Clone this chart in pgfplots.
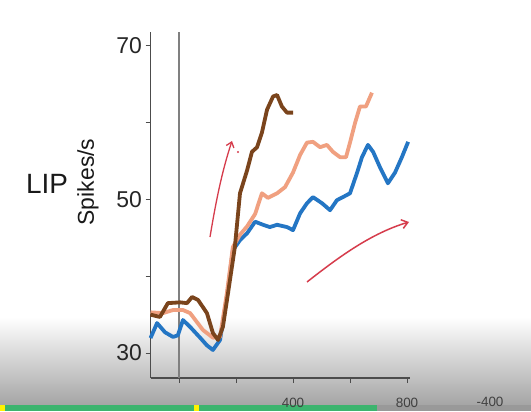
\documentclass[border=0pt]{standalone}
\usepackage{fontspec}
\setmainfont{Liberation Sans}
\usepackage{pgfplots}
\pgfplotsset{compat=1.18}
\usetikzlibrary{arrows.meta}
\definecolor{cbrown}{RGB}{122,68,28}
\definecolor{csalmon}{RGB}{240,160,128}
\definecolor{cblue}{RGB}{36,118,196}
\definecolor{cred}{RGB}{214,60,76}
\definecolor{cgreen}{RGB}{60,180,110}
\begin{document}
\begin{tikzpicture}[x=1bp,y=1bp]
\path[use as bounding box] (0,0) rectangle (531,411);
\fill[white] (0,0) rectangle (531,411);
\shade[top color=white, bottom color={rgb,255:red,165;green,165;blue,165}] (0,6) rectangle (531,94);
\fill[cgreen] (0,0) rectangle (377,6);
\fill[black!40] (377,0) rectangle (531,6);
\fill[yellow] (0,0) rectangle (5,6);
\fill[yellow] (194,0) rectangle (199,6);
\begin{axis}[
  at={(150.5bp,33bp)}, anchor=south west,
  scale only axis, width=259.35bp, height=346bp,
  xmin=-100, xmax=810, ymin=26.75, ymax=71.8,
  axis x line*=bottom, axis y line*=left,
  axis line style={-, black!70, line width=1.6bp},
  tick align=outside, major tick length=5bp,
  tick style={black!70, line width=1bp},
  xtick={0,200,400,600,800}, xticklabels={,,400,,800},
  ytick={30,40,50,60,70}, yticklabels={30,,50,,70},
  /pgf/number format/assume math mode=true,
  yticklabel style={font=\fontsize{23}{23}\selectfont, text=black!85},
  xticklabel style={font=\fontsize{13.5}{13.5}\selectfont, text=black!75, yshift=-12bp},
  clip=false,
]
\draw[black!50, line width=1.2bp] (axis cs:0,26.75) -- (axis cs:0,71.8);
\addplot[cblue, line width=3.8bp, line join=round] coordinates {
(-100,31.95) (-77,33.9) (-49,32.7) (-21,32.1) (-4,32.3) (14,34.3) (39,33.4)
(74,32.0) (98,31.0) (119,30.4) (144,31.7) (168,37.3) (189,43.4) (214,44.7)
(239,45.6) (267,47.1) (295,46.7) (319,46.4) (344,46.7) (379,46.4) (400,46.0)
(425,48.2) (449,49.5) (470,50.3) (502,49.5) (530,48.6) (554,49.9) (575,50.3)
(600,50.8) (625,53.5) (642,55.5) (663,57.1) (681,56.2) (705,54.2) (733,52.1)
(758,53.5) (782,55.5) (804,57.5)
};
\addplot[csalmon, line width=3.8bp, line join=round] coordinates {
(-100,35.3) (-56,35.2) (-21,35.6) (14,35.6) (39,35.2) (84,33.0) (119,32.0)
(144,32.1) (168,37.8) (189,43.8) (214,45.4) (239,46.5) (267,48.1) (291,50.8)
(312,50.2) (344,50.8) (372,51.6) (400,53.5) (425,55.8) (449,57.4) (470,57.5)
(495,56.8) (519,57.1) (540,56.2) (565,55.5) (586,55.5) (600,57.4) (618,60.0)
(635,62.1) (656,62.1) (677,63.9)
};
\addplot[cbrown, line width=3.8bp, line join=round] coordinates {
(-100,35.0) (-67,34.7) (-39,36.5) (4,36.6) (28,36.5) (46,37.3) (67,36.9)
(98,35.2) (119,32.6) (137,31.7) (154,33.4) (172,37.8) (196,43.8) (214,50.8)
(239,53.8) (256,56.2) (274,56.8) (291,58.7) (309,61.7) (330,63.4) (344,63.6)
(361,62.1) (379,61.3) (400,61.3)
};
\end{axis}
\node[font=\fontsize{13.5}{13.5}\selectfont, text=black!75] at (490,9) {-400};
\node[font=\fontsize{28}{28}\selectfont, text=black!90] at (47,227) {LIP};
\node[font=\fontsize{23}{23}\selectfont, text=black!90, rotate=90] at (88,229) {Spikes/s};
\draw[cred, line width=1.3bp, -{Straight Barb[length=5bp,width=8bp]}] (210,174) .. controls (216,210) and (222,240) .. (232,270);
\fill[cred] (238,259) circle (1.2bp);
\draw[cred, line width=1.5bp, -{Straight Barb[length=6bp,width=9bp]}] (307,129) .. controls (340,155) and (372,178) .. (409,189);
\end{tikzpicture}
\end{document}
